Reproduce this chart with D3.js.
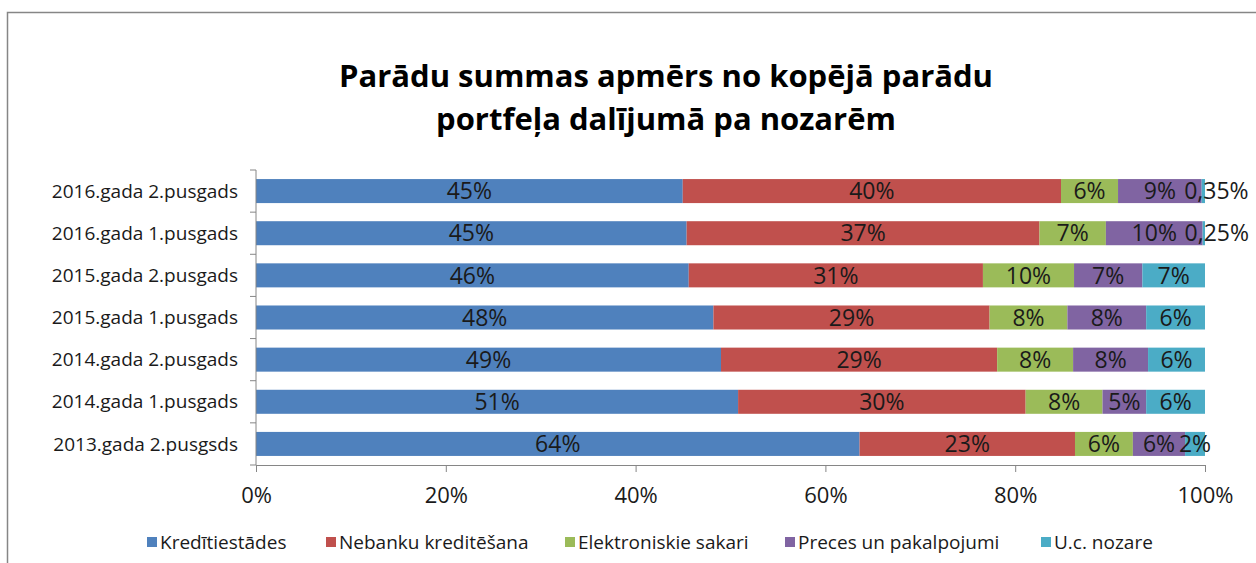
<!DOCTYPE html>
<html>
<head>
<meta charset="utf-8">
<script src="https://cdn.jsdelivr.net/npm/d3@7"></script>
<style>
  body { margin: 0; background: #fff; }
  svg { font-family: "Open Sans", "Noto Sans", sans-serif; }
</style>
</head>
<body>
<div id="chart"></div>
<script>
// categories top to bottom
var periods = ["2016.gada 2.pusgads", "2016.gada 1.pusgads", "2015.gada 2.pusgads",
  "2015.gada 1.pusgads", "2014.gada 2.pusgads", "2014.gada 1.pusgads", "2013.gada 2.pusgsds"];

var sectors = ["Kredītiestādes", "Nebanku kreditēšana", "Elektroniskie sakari",
  "Preces un pakalpojumi", "U.c. nozare"];

// shares in %, one array per sector, same order as periods
var kreditiestades = [44.9, 45.4, 45.6, 48.2, 49.0, 50.8, 63.6];
var nebanku = [39.8, 37.2, 31.0, 29.1, 29.1, 30.3, 22.7];
var elektroniskie = [6.0, 7.0, 9.6, 8.2, 8.0, 8.1, 6.1];
var preces = [8.8, 10.2, 7.2, 8.3, 7.9, 4.6, 5.5];
var citas = [0.35, 0.25, 6.6, 6.2, 6.0, 6.2, 2.1];

var xTicks = [0, 0.2, 0.4, 0.6, 0.8, 1];

var colors = ["#4F81BD", "#C0504D", "#9BBB59", "#8064A2", "#4BACC6"];

var W = 1256, H = 563;
var margin = { top: 170, left: 256, right: 51, bottom: 98 };
var width = W - margin.left - margin.right,
    height = H - margin.top - margin.bottom;

var rows = periods.map(function(p, i) {
  return { period: p, s0: kreditiestades[i], s1: nebanku[i], s2: elektroniskie[i], s3: preces[i], s4: citas[i] };
});
var keys = ["s0", "s1", "s2", "s3", "s4"];

var stack = d3.stack().keys(keys).offset(d3.stackOffsetExpand);
var series = stack(rows);

var x = d3.scaleLinear().domain([0, 1]).range([0, width]);
var y = d3.scaleBand().domain(periods).range([0, height]).paddingInner(0.43).paddingOuter(0.215);

var svg = d3.select("#chart").append("svg")
    .attr("width", W)
    .attr("height", H);

// outer frame (runs off the right / bottom edge)
svg.append("rect")
    .attr("x", 7.5).attr("y", 12.5)
    .attr("width", W + 20).attr("height", H + 20)
    .attr("fill", "none").attr("stroke", "#868686").attr("stroke-width", 1.5);

// title
var title = svg.append("text")
    .attr("text-anchor", "middle")
    .attr("font-weight", "bold")
    .attr("font-size", 31)
    .attr("fill", "#000");
title.append("tspan").attr("x", 666).attr("y", 87).text("Parādu summas apmērs no kopējā parādu");
title.append("tspan").attr("x", 666).attr("y", 130).text("portfeļa dalījumā pa nozarēm");

var g = svg.append("g")
    .attr("transform", "translate(" + margin.left + "," + margin.top + ")");

// bars
var layer = g.selectAll(".layer")
  .data(series)
  .enter().append("g")
    .attr("class", "layer")
    .attr("fill", function(d, i) { return colors[i]; });

layer.selectAll("rect")
  .data(function(d) { return d; })
  .enter().append("rect")
    .attr("x", function(d) { return x(d[0]); })
    .attr("y", function(d) { return y(d.data.period); })
    .attr("width", function(d) { return x(d[1]) - x(d[0]); })
    .attr("height", y.bandwidth());

// value labels
function fmt(v) {
  if (v < 1) return String(v).replace(".", ",") + "%";
  return Math.round(v) + "%";
}

layer.selectAll("text")
  .data(function(d) { return d.map(function(e) { e.key = d.key; return e; }); })
  .enter().append("text")
    .attr("x", function(d) { return x((d[0] + d[1]) / 2) + (d.data[d.key] < 1 ? 13 : 0); })
    .attr("y", function(d) { return y(d.data.period) + y.bandwidth() / 2; })
    .attr("dy", "0.36em")
    .attr("text-anchor", "middle")
    .attr("font-size", 23)
    .attr("fill", "#1a1a1a")
    .text(function(d) { return fmt(d.data[d.key]); });

// y axis
var yAxis = g.append("g")
    .attr("class", "y-axis");
yAxis.append("line")
    .attr("x1", 0).attr("x2", 0)
    .attr("y1", 0).attr("y2", height)
    .attr("stroke", "#868686");
var bounds = periods.map(function(p) { return y(p) - y.step() * y.paddingInner() / 2; }).concat([height]);
yAxis.selectAll(".tick")
  .data(bounds)
  .enter().append("line")
    .attr("x1", -6).attr("x2", 0)
    .attr("y1", function(d) { return d; }).attr("y2", function(d) { return d; })
    .attr("stroke", "#868686");
yAxis.selectAll(".lbl")
  .data(periods)
  .enter().append("text")
    .attr("x", -18)
    .attr("y", function(d) { return y(d) + y.bandwidth() / 2; })
    .attr("dy", "0.35em")
    .attr("text-anchor", "end")
    .attr("font-size", 19)
    .attr("fill", "#1a1a1a")
    .text(function(d) { return d; });

// x axis
var xAxis = g.append("g")
    .attr("transform", "translate(0," + height + ")")
    .call(d3.axisBottom(x).tickValues(xTicks).tickFormat(d3.format(".0%")).tickSize(7).tickPadding(15));
xAxis.select(".domain").attr("stroke", "#868686");
xAxis.selectAll(".tick line").attr("stroke", "#868686");
xAxis.selectAll(".tick text")
    .attr("font-size", 22)
    .attr("font-family", "'Open Sans', 'Noto Sans', sans-serif")
    .attr("fill", "#1a1a1a");

// legend
var legendX = [147, 326, 565, 785, 1041];
var legend = svg.append("g").selectAll("g")
  .data(sectors)
  .enter().append("g")
    .attr("transform", function(d, i) { return "translate(" + legendX[i] + ",537)"; });
legend.append("rect")
    .attr("width", 10).attr("height", 10)
    .attr("fill", function(d, i) { return colors[i]; });
legend.append("text")
    .attr("x", 13).attr("y", 5)
    .attr("dy", "0.35em")
    .attr("font-size", 19)
    .attr("fill", "#1a1a1a")
    .text(function(d) { return d; });
</script>
</body>
</html>
